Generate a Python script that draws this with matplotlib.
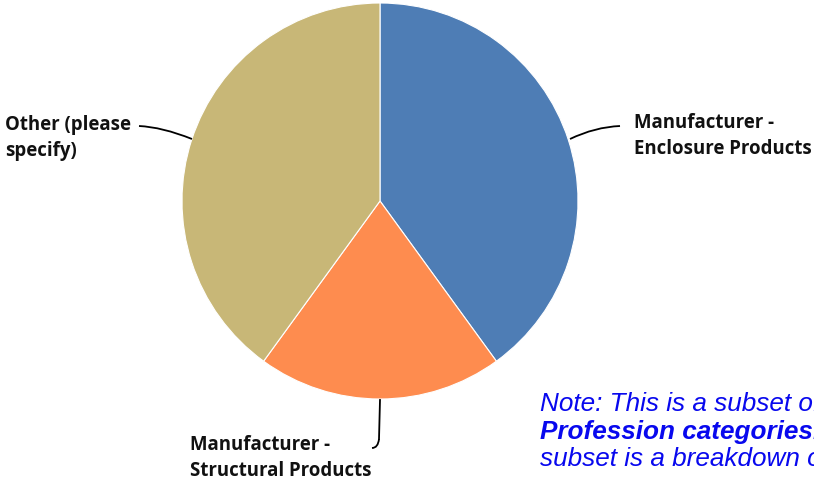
import matplotlib
matplotlib.use("Agg")
import matplotlib.pyplot as plt
from matplotlib.path import Path
from matplotlib.patches import PathPatch, Wedge

categories = ["Manufacturer -\nEnclosure Products", "Manufacturer -\nStructural Products", "Other (please\nspecify)"]
values = [40, 20, 40]
colors = ["#4e7db5", "#fe8c4f", "#c8b777"]
note_lines = ["Note: This is a subset of", "Profession categories.", "subset is a breakdown of"]

W, H = 814, 481
fig = plt.figure(figsize=(W / 100, H / 100), dpi=100)
ax = fig.add_axes([0, 0, 1, 1])
ax.set_xlim(0, W)
ax.set_ylim(H, 0)
ax.axis("off")

cx, cy, r = 380, 202, 198
ang = 90.0
total = sum(values)
for v, c in zip(values, colors):
    span = v / total * 360
    t1 = -ang
    t2 = -(ang - span)
    ax.add_patch(Wedge((cx, cy), r, t1, t2, facecolor=c, edgecolor="white", linewidth=0.8))
    ang -= span

lab_font = dict(family=["Open Sans", "DejaVu Sans"], fontweight="bold", fontsize=13.4,
                color="#111111", linespacing=1.4)

def leader(pts):
    codes = [Path.MOVETO] + [Path.CURVE3] * (len(pts) - 1)
    ax.add_patch(PathPatch(Path(pts, codes), fill=False, edgecolor="black", linewidth=1.3))

# Enclosure
leader([(570, 140), (595, 128), (620, 127)])
ax.text(634, 136, categories[0], ha="left", va="center", **lab_font)
# Other
leader([(192, 140), (162, 128), (139, 127)])
ax.text(5, 138, categories[2], ha="left", va="center", **lab_font)
# Structural
ax.plot([380, 379], [401, 440], color="black", lw=1.3)
leader([(379, 440), (378, 449), (372, 449)])
ax.text(190, 458, categories[1], ha="left", va="center", **lab_font)

note_color = "#0808ee"
nf = dict(family=["Liberation Sans", "DejaVu Sans"], fontsize=18.8, color=note_color, style="italic")
ax.text(540, 404, note_lines[0], va="center", ha="left", **nf)
ax.text(540, 432, note_lines[1], fontweight="bold", va="center", ha="left", **nf)
ax.text(540, 459, note_lines[2], va="center", ha="left", **nf)

fig.savefig("out.png", dpi=100)
